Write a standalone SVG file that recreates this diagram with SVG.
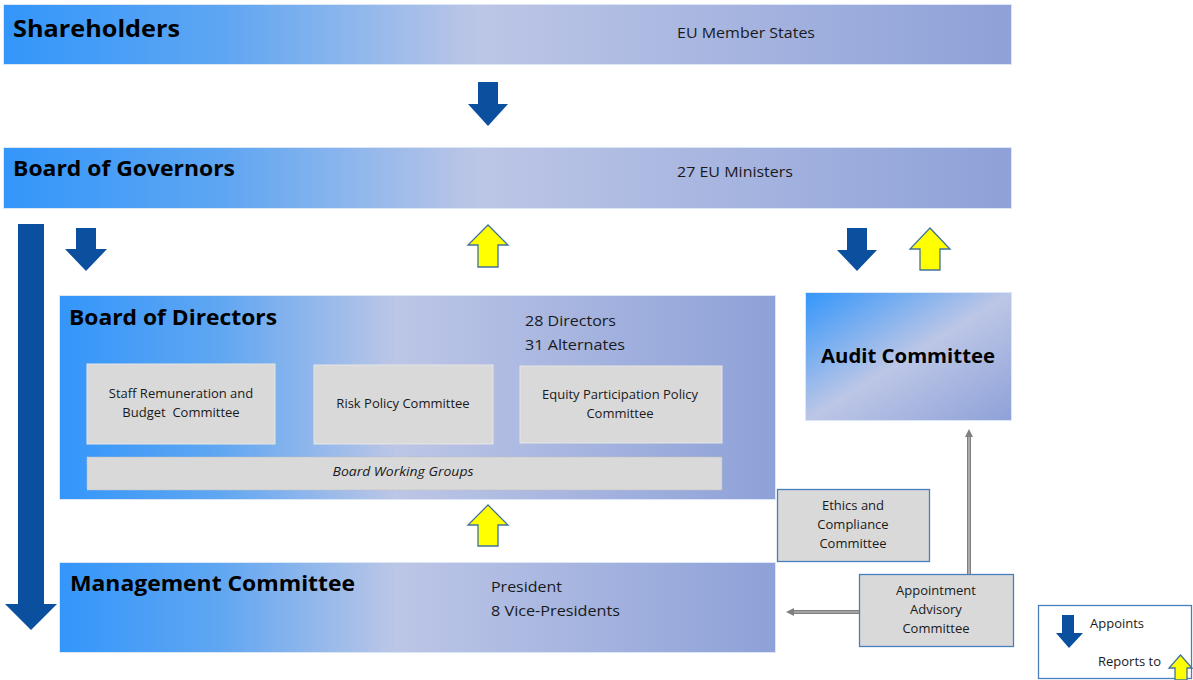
<svg xmlns="http://www.w3.org/2000/svg" width="1193" height="680" viewBox="0 0 1193 680">
<defs>
<linearGradient id="gH" x1="0" y1="0" x2="1" y2="0">
<stop offset="0" stop-color="#3396fb"/>
<stop offset="0.22" stop-color="#5fa6f2"/>
<stop offset="0.47" stop-color="#bcc6e6"/>
<stop offset="1" stop-color="#8ea1d8"/>
</linearGradient>
<linearGradient id="gD" x1="0" y1="0" x2="1" y2="1">
<stop offset="0" stop-color="#3396fb"/>
<stop offset="0.5" stop-color="#bcc6e6"/>
<stop offset="1" stop-color="#8ea1d8"/>
</linearGradient>
<style>
.bar{stroke:#dbe6f7;stroke-width:1}
.ttl{font-family:"Open Sans","Liberation Sans",sans-serif;font-weight:bold;fill:#000}
.lbl{font-family:"Open Sans","Liberation Sans",sans-serif;font-size:15px;fill:#1a1a1a}
.sm{font-family:"Open Sans","Liberation Sans",sans-serif;font-size:13px;fill:#1a1a1a;text-anchor:middle}
.cmt{fill:#d9d9d9;stroke:#e6e6e6;stroke-width:1}
.cmtb{fill:#d9d9d9;stroke:#4a7ebb;stroke-width:1.3}
.blue{fill:#0b4f9f}
.yel{fill:#ffff00;stroke:#41719c;stroke-width:1.3;stroke-linejoin:miter}
.gl{stroke:#7f7f7f;stroke-width:4;fill:none}
.gi{stroke:#c8c8c8;stroke-width:1.2;fill:none}
</style>
</defs>
<rect width="1193" height="680" fill="#ffffff"/>

<g id="shareholders">
<rect class="bar" x="3.5" y="4.5" width="1008" height="60" fill="url(#gH)"/>
<text class="ttl" x="13" y="37" font-size="24" textLength="167" lengthAdjust="spacingAndGlyphs">Shareholders</text>
<text class="lbl" x="677" y="38" textLength="138" lengthAdjust="spacingAndGlyphs">EU Member States</text>
</g>

<g id="board-of-governors">
<rect class="bar" x="3.5" y="147.5" width="1008" height="61" fill="url(#gH)"/>
<text class="ttl" x="13" y="176" font-size="21" textLength="222" lengthAdjust="spacingAndGlyphs">Board of Governors</text>
<text class="lbl" x="677" y="177" textLength="116" lengthAdjust="spacingAndGlyphs">27 EU Ministers</text>
</g>

<g id="board-of-directors">
<rect class="bar" x="59.5" y="295.5" width="716" height="204" fill="url(#gH)"/>
<text class="ttl" x="69" y="325" font-size="21" textLength="208" lengthAdjust="spacingAndGlyphs">Board of Directors</text>
<text class="lbl" x="525" y="326" textLength="91" lengthAdjust="spacingAndGlyphs">28 Directors</text>
<text class="lbl" x="525" y="350" textLength="100" lengthAdjust="spacingAndGlyphs">31 Alternates</text>
<g id="staff-remuneration">
<rect class="cmt" x="87" y="364" width="188" height="80"/>
<text class="sm" x="181" y="398">Staff Remuneration and</text>
<text class="sm" x="181" y="417" xml:space="preserve">Budget  Committee</text>
</g>
<g id="risk-policy">
<rect class="cmt" x="314" y="365" width="179" height="79"/>
<text class="sm" x="403" y="408">Risk Policy Committee</text>
</g>
<g id="equity-participation">
<rect class="cmt" x="520" y="366" width="202" height="77"/>
<text class="sm" x="620" y="399">Equity Participation Policy</text>
<text class="sm" x="620" y="418">Committee</text>
</g>
<g id="board-working-groups">
<rect x="87" y="457" width="635" height="33" fill="#d9d9d9" stroke="#bfbfbf" stroke-width="1" stroke-dasharray="1.5 1.5"/>
<text class="sm" x="403" y="476" font-style="italic" textLength="141" lengthAdjust="spacingAndGlyphs">Board Working Groups</text>
</g>
</g>

<g id="audit-committee">
<rect class="bar" x="805.5" y="292.5" width="206" height="128" fill="url(#gD)"/>
<text class="ttl" x="908" y="363" font-size="19" text-anchor="middle" textLength="174" lengthAdjust="spacingAndGlyphs">Audit Committee</text>
</g>

<g id="management-committee">
<rect class="bar" x="59.5" y="562.5" width="716" height="90" fill="url(#gH)"/>
<text class="ttl" x="70" y="591" font-size="21" textLength="285" lengthAdjust="spacingAndGlyphs">Management Committee</text>
<text class="lbl" x="491" y="592" textLength="71" lengthAdjust="spacingAndGlyphs">President</text>
<text class="lbl" x="491" y="616" textLength="129" lengthAdjust="spacingAndGlyphs">8 Vice-Presidents</text>
</g>

<g id="ethics-compliance">
<rect class="cmtb" x="777.5" y="489.5" width="152" height="72"/>
<text class="sm" x="853" y="510">Ethics and</text>
<text class="sm" x="853" y="529">Compliance</text>
<text class="sm" x="853" y="548">Committee</text>
</g>

<g id="appointment-advisory">
<rect class="cmtb" x="859.5" y="574.5" width="154" height="72"/>
<text class="sm" x="936" y="595">Appointment</text>
<text class="sm" x="936" y="614">Advisory</text>
<text class="sm" x="936" y="633">Committee</text>
</g>

<g id="connectors">
<polygon class="blue" points="478,82 498,82 498,104 508,104 488,126 468,104 478,104"/>
<polygon class="blue" points="76,228 96,228 96,249 107,249 86,271 65,249 76,249"/>
<polygon class="blue" points="847,228 867,228 867,250 877,250 857,271 837,250 847,250"/>
<polygon class="blue" points="18,224 44,224 44,604 57,604 31,630 5,604 18,604"/>
<polygon class="yel" points="478,267 498,267 498,245 508,245 488,225 468,245 478,245"/>
<polygon class="yel" points="920,270 940,270 940,249 950,249 930,228 910,249 920,249"/>
<polygon class="yel" points="478,546 498,546 498,525 508,525 488,505 468,525 478,525"/>
<line class="gl" x1="969" y1="574" x2="969" y2="436"/>
<line class="gi" x1="969" y1="574" x2="969" y2="436"/>
<polygon points="965,437 969,429 973,437" fill="#7f7f7f"/>
<line class="gl" x1="859" y1="612" x2="793" y2="612"/>
<line class="gi" x1="859" y1="612" x2="793" y2="612"/>
<polygon points="794,608 786,612 794,616" fill="#7f7f7f"/>
</g>

<g id="legend">
<rect x="1038.5" y="605.5" width="153" height="73" fill="#ffffff" stroke="#4a7ebb" stroke-width="1.3"/>
<polygon class="blue" points="1062,615 1074,615 1074,633 1083,633 1069,648 1056,633 1062,633"/>
<text class="sm" x="1090" y="628" style="text-anchor:start">Appoints</text>
<text class="sm" x="1098" y="666" style="text-anchor:start">Reports to</text>
<polygon class="yel" points="1175,680 1187,680 1187,668 1192,668 1180.5,655 1169,668 1175,668"/>
</g>
</svg>
